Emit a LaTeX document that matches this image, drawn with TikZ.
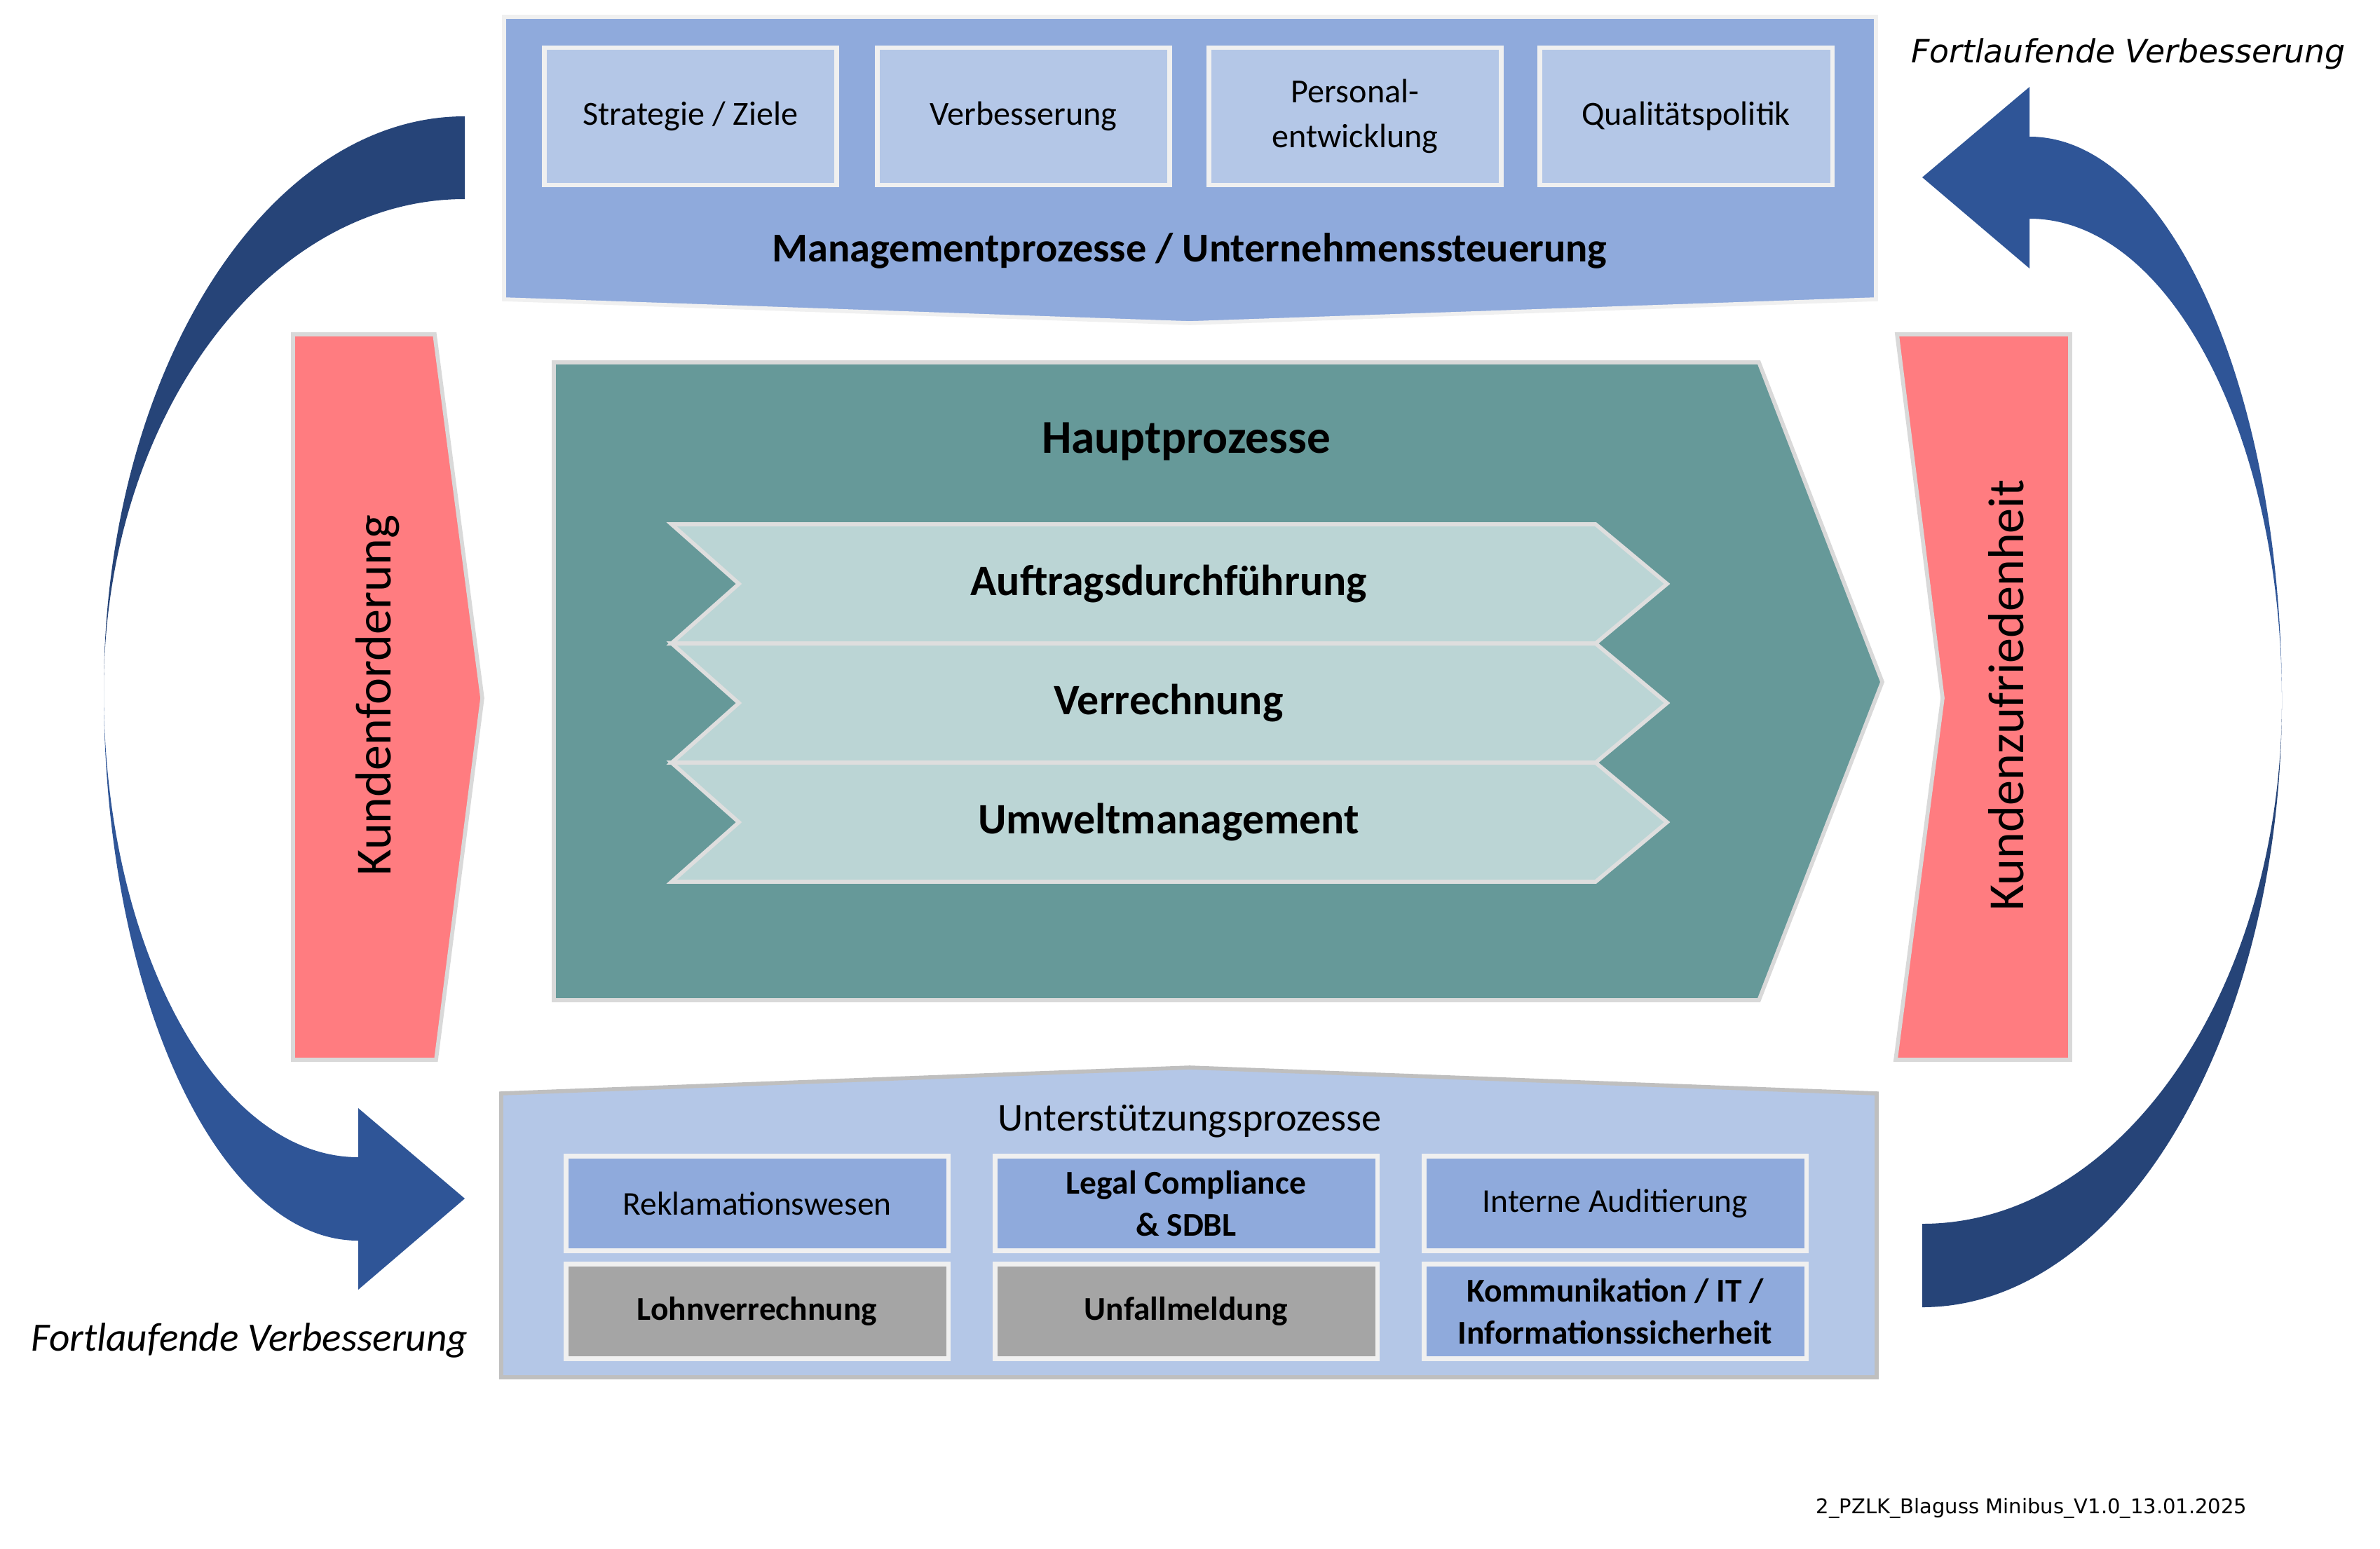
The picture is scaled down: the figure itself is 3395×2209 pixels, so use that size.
\documentclass[tikz,border=0pt]{standalone}
\usepackage{fontspec}
\setmainfont{Carlito}
\newfontfamily\dejavu{DejaVu Sans}
\definecolor{mgmt}{HTML}{8FAADC}
\definecolor{lightbl}{HTML}{B4C7E7}
\definecolor{whiteb}{HTML}{F0F0F0}
\definecolor{redf}{HTML}{FF7C80}
\definecolor{grayb}{HTML}{D9D9D9}
\definecolor{teal}{HTML}{669999}
\definecolor{chev}{HTML}{BBD5D5}
\definecolor{chevb}{HTML}{DEDEDE}
\definecolor{supb}{HTML}{BFBFBF}
\definecolor{grayf}{HTML}{A5A5A5}
\definecolor{navy}{HTML}{264478}
\definecolor{blue2}{HTML}{2F5597}
\begin{document}
\begin{tikzpicture}[x=0.01cm,y=-0.01cm,
  topbox/.style={draw=whiteb, line width=1.8pt, fill=lightbl, minimum width=4.17cm, minimum height=1.96cm, inner sep=0pt, align=center, font=\fontsize{13.7pt}{18pt}\selectfont},
  botbox/.style={draw=whiteb, line width=1.8pt, fill=mgmt, minimum width=5.45cm, minimum height=1.35cm, inner sep=0pt, align=center, font=\fontsize{13.5pt}{17pt}\selectfont},
  graybox/.style={botbox, fill=grayf},
  chevtext/.style={font=\fontsize{17.6pt}{20pt}\selectfont\bfseries},
  bigside/.style={rotate=90, font=\fontsize{20.5pt}{24pt}\selectfont}
]
\useasboundingbox (0,0) rectangle (3395,2209);
\fill[white] (0,0) rectangle (3395,2209);

% curved arrows
\fill[navy] (663,166) .. controls (379,166) and (148,533) .. (148,985)
  .. controls (148,598) and (379,284) .. (663,284) -- cycle;
\fill[blue2] (148,985) .. controls (148,1419) and (311,1770) .. (511,1770)
  -- (511,1840) -- (663,1710) -- (511,1581) -- (511,1651)
  .. controls (311,1651) and (148,1353) .. (148,985) -- cycle;
\fill[navy] (2742,1865) .. controls (3025,1865) and (3255,1478) .. (3255,1000)
  .. controls (3255,1412) and (3025,1746) .. (2742,1746) -- cycle;
\fill[blue2] (3255,1000) .. controls (3255,555) and (3094,195) .. (2895,195)
  -- (2895,124) -- (2742,253) -- (2895,383) -- (2895,312)
  .. controls (3094,312) and (3255,620) .. (3255,1000) -- cycle;

% top banner
\filldraw[fill=mgmt, draw=whiteb, line width=1.6pt] (719,24) -- (2676,24) -- (2676,427) -- (1697,461) -- (719,427) -- cycle;
\node[topbox] (strat) at (985,166) {Strategie / Ziele};
\node[topbox] (verb) at (1460,166) {Verbesserung};
\node[topbox] (pers) at (1933,166) {Personal-\\entwicklung};
\node[topbox] (qual) at (2405,166) {Qualitätspolitik};
\node[font=\fontsize{16.6pt}{19pt}\selectfont\bfseries] (mgmtt) at (1697,358) {Managementprozesse / Unternehmenssteuerung};

% red side arrows
\filldraw[fill=redf, draw=grayb, line width=1.6pt] (418,477) -- (620,477) -- (688,996) -- (622,1512) -- (418,1512) -- cycle;
\node[bigside] (kf) at (539,992) {Kundenforderung};
\filldraw[fill=redf, draw=grayb, line width=1.6pt] (2706,477) -- (2953,477) -- (2953,1512) -- (2704,1512) -- (2771,996) -- cycle;
\node[bigside] (kz) at (2862,992) {Kundenzufriedenheit};

% main process
\filldraw[fill=teal, draw=grayb, line width=1.6pt] (790,517) -- (2509,517) -- (2685,973) -- (2509,1427) -- (790,1427) -- cycle;
\node[font=\fontsize{19.1pt}{22pt}\selectfont\bfseries] (haupt) at (1692,630) {Hauptprozesse};
\foreach \yt/\ym/\yb in {748/833/918, 918/1003/1088, 1088/1173/1258}{
  \filldraw[fill=chev, draw=chevb, line width=1.6pt] (958,\yt) -- (2276,\yt) -- (2378,\ym) -- (2276,\yb) -- (958,\yb) -- (1054,\ym) -- cycle;
}
\node[chevtext] (auf) at (1667,833) {Auftragsdurchführung};
\node[chevtext] (ver) at (1667,1003) {Verrechnung};
\node[chevtext] (umw) at (1667,1173) {Umweltmanagement};

% support banner
\filldraw[fill=lightbl, draw=supb, line width=1.6pt] (715,1560) -- (1697,1523) -- (2677,1560) -- (2677,1965) -- (715,1965) -- cycle;
\node[font=\fontsize{16pt}{19pt}\selectfont] (unter) at (1697,1600) {Unterstützungsprozesse};
\node[botbox] (rek) at (1080,1717) {Reklamationswesen};
\node[botbox, font=\fontsize{13.5pt}{17pt}\selectfont\bfseries] (legal) at (1692,1717) {Legal Compliance\\\& SDBL};
\node[botbox] (intern) at (2304,1717) {Interne Auditierung};
\node[graybox, font=\fontsize{13.5pt}{17pt}\selectfont\bfseries] (lohn) at (1080,1871) {Lohnverrechnung};
\node[graybox, font=\fontsize{13.5pt}{17pt}\selectfont\bfseries] (unfall) at (1692,1871) {Unfallmeldung};
\node[botbox, font=\fontsize{13.5pt}{17pt}\selectfont\bfseries] (komm) at (2304,1871) {Kommunikation / IT /\\Informationssicherheit};

% labels
\node[font=\fontsize{16.3pt}{18pt}\selectfont\itshape] (fvl) at (356,1912) {Fortlaufende Verbesserung};
\node[font=\dejavu\fontsize{13pt}{15pt}\selectfont\itshape] (fvr) at (3036,77) {Fortlaufende Verbesserung};
\node[anchor=east, inner sep=0pt, font=\dejavu\fontsize{8.25pt}{10pt}\selectfont] (foot) at (3206,2152) {2\_PZLK\_Blaguss Minibus\_V1.0\_13.01.2025};
\end{tikzpicture}
\end{document}
